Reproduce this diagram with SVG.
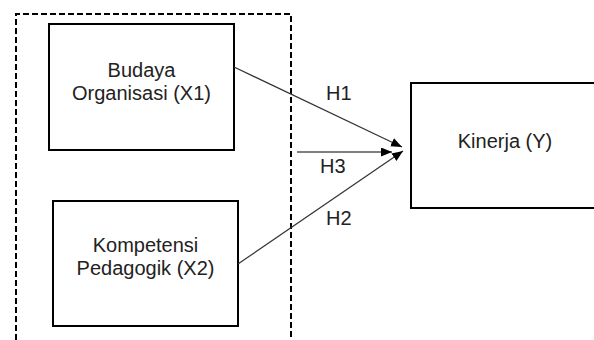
<svg xmlns="http://www.w3.org/2000/svg" width="594" height="340" viewBox="0 0 594 340">
<style>
.box{fill:#fff;stroke:#000;stroke-width:2}
.t{font-family:"Liberation Sans",Arial,sans-serif;font-size:20px;fill:#222;text-anchor:middle}
.lbl{font-family:"Liberation Sans",Arial,sans-serif;font-size:20px;fill:#222}
.dash{fill:none;stroke:#000;stroke-width:2;stroke-dasharray:6 3}
.c{fill:none;stroke:#333;stroke-width:1.2}
</style>
<defs>
<marker id="ah" markerUnits="userSpaceOnUse" markerWidth="12" markerHeight="10" refX="11" refY="4.5" orient="auto">
<path d="M0,0 L11,4.5 L0,9 z" fill="#000"/>
</marker>
</defs>
<rect width="594" height="340" fill="#fff"/>
<g id="group-boundary">
<path class="dash" d="M16,340 L16,14 L291,14 L291,340"/>
</g>
<g id="node-x1">
<rect class="box" x="49" y="24" width="185" height="126"/>
<text class="t" x="141.5" y="77">Budaya</text>
<text class="t" x="141.5" y="100">Organisasi (X1)</text>
</g>
<g id="node-x2">
<rect class="box" x="53" y="201" width="185" height="125"/>
<text class="t" x="145.5" y="252">Kompetensi</text>
<text class="t" x="145.5" y="275">Pedagogik (X2)</text>
</g>
<g id="node-y">
<rect class="box" x="411" y="83" width="200" height="125"/>
<text class="t" x="505" y="148">Kinerja (Y)</text>
</g>
<g id="connectors">
<line class="c" x1="234" y1="67" x2="402" y2="147" marker-end="url(#ah)"/>
<line class="c" x1="238" y1="264" x2="403" y2="151" marker-end="url(#ah)"/>
<line class="c" x1="297" y1="152" x2="392" y2="152" marker-end="url(#ah)" style="stroke:#000"/>
<text class="lbl" x="326" y="100">H1</text>
<text class="lbl" x="320" y="173">H3</text>
<text class="lbl" x="326" y="225">H2</text>
</g>
</svg>
